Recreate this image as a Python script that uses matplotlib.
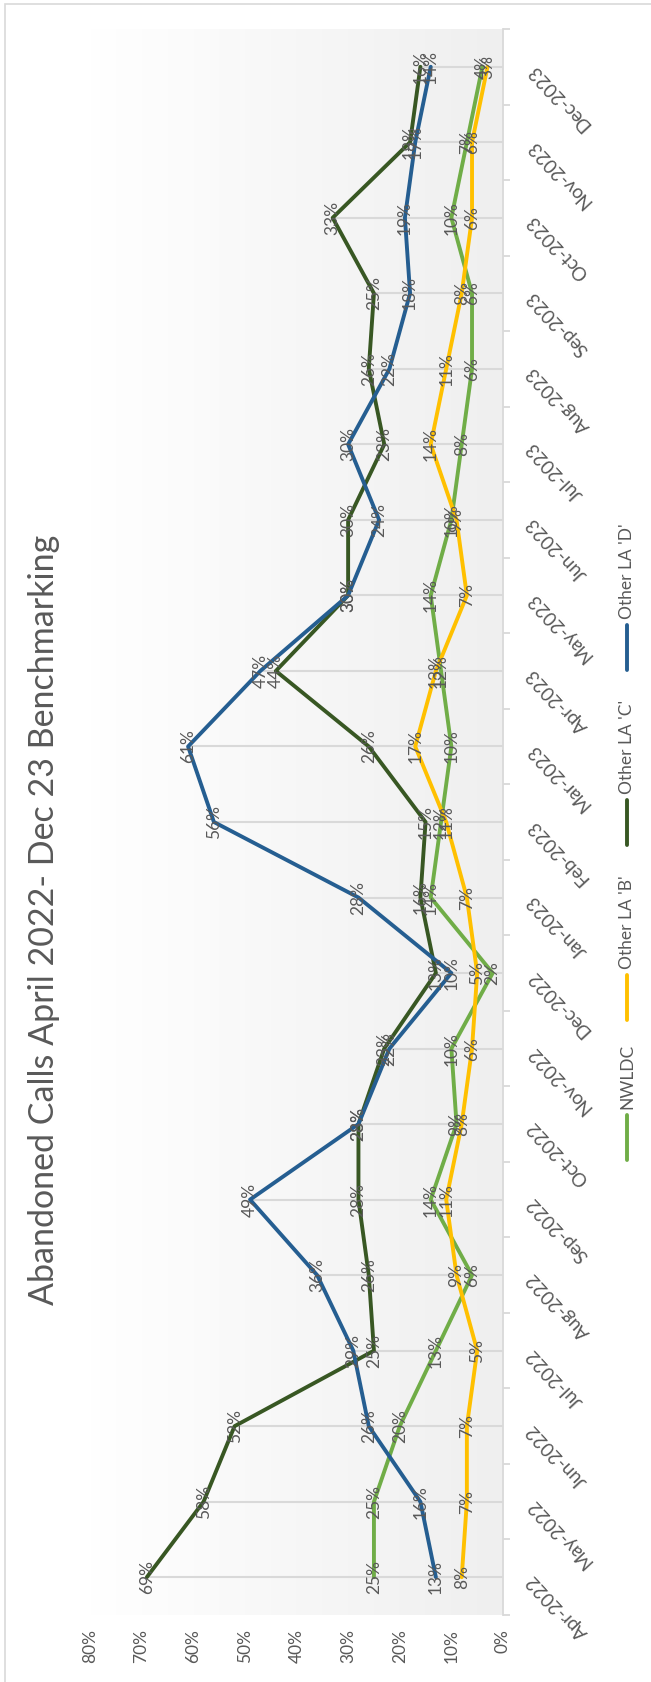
import matplotlib
matplotlib.use("Agg")
import matplotlib.pyplot as plt
import matplotlib.patches as patches
from matplotlib.colors import LinearSegmentedColormap
from matplotlib.lines import Line2D
import numpy as np

plt.rcParams["font.family"] = ["Lato", "DejaVu Sans"]

title = "Abandoned Calls April 2022- Dec 23 Benchmarking"
months = [
    "Apr-2022", "May-2022", "Jun-2022", "Jul-2022", "Aug-2022", "Sep-2022",
    "Oct-2022", "Nov-2022", "Dec-2022", "Jan-2023", "Feb-2023", "Mar-2023",
    "Apr-2023", "May-2023", "Jun-2023", "Jul-2023", "Aug-2023", "Sep-2023",
    "Oct-2023", "Nov-2023", "Dec-2023",
]
series_names = ["NWLDC", "Other LA 'B'", "Other LA 'C'", "Other LA 'D'"]
nwldc = [25, 25, 20, 13, 6, 14, 9, 10, 2, 14, 12, 10, 12, 14, 10, 8, 6, 6, 10, 7, 4]
la_b = [8, 7, 7, 5, 9, 11, 8, 6, 5, 7, 11, 17, 13, 7, 9, 14, 11, 8, 6, 6, 3]
la_c = [69, 58, 52, 25, 26, 28, 28, 23, 13, 16, 15, 26, 44, 30, 30, 23, 26, 25, 33, 18, 16]
la_d = [13, 16, 26, 29, 36, 49, 28, 22, 10, 28, 56, 61, 47, 30, 24, 30, 22, 18, 19, 17, 14]
value_ticks = [0, 10, 20, 30, 40, 50, 60, 70, 80]

colors = ["#70AD47", "#FFC000", "#385723", "#255E91"]
grey = "#595959"
W, H = 651, 1682

fig = plt.figure(figsize=(W / 100, H / 100), dpi=100)
# chart is drawn turned on its side: values run right-to-left, months bottom-to-top
ax = fig.add_axes([90 / W, 1 - 1615 / H, (503 - 90) / W, (1615 - 29) / H])

bg = LinearSegmentedColormap.from_list("bg", ["#ffffff", "#efefef"])
ax.imshow(np.linspace(0, 1, 256)[None, :], extent=[80, 0, -0.5, 20.5],
          aspect="auto", cmap=bg, zorder=0)

y = np.arange(len(months))
all_series = [nwldc, la_b, la_c, la_d]
top = np.max(np.array(all_series), axis=0)
ax.hlines(y, 0, top, colors="#d9d9d9", lw=1.5, zorder=1)

for i, (vals, c) in enumerate(zip(all_series, colors)):
    ax.plot(vals, y, color=c, lw=2.8, zorder=2 + i,
            solid_joinstyle="round", solid_capstyle="round")
for vals in all_series:
    for v, yy in zip(vals, y):
        ax.text(v, yy, f"{v}%", rotation=90, ha="center", va="center",
                color=grey, fontsize=12.5, zorder=10)

ax.set_xlim(80, 0)
ax.set_ylim(-0.5, 20.5)
for s in ["left", "top", "bottom"]:
    ax.spines[s].set_visible(False)
ax.spines["right"].set_color("#d9d9d9")
ax.spines["right"].set_linewidth(1.3)

ax.set_xticks(value_ticks, [f"{v}%" for v in value_ticks])
ax.tick_params(axis="x", length=0, pad=10, labelrotation=90,
               labelsize=12.5, labelcolor=grey)
ax.yaxis.tick_right()
ax.set_yticks(np.arange(-0.5, 21, 1), [""] * 22)
ax.tick_params(axis="y", direction="out", length=5, width=1.3, color="#d9d9d9")

for m, yy in zip(months, y):
    ax.text(1 + 27 / 413, yy, m, transform=ax.get_yaxis_transform(),
            rotation=133, rotation_mode="anchor", ha="right", va="center",
            color=grey, fontsize=13.5)

fig.text(44 / W, 1 - 920 / H, title, rotation=90, ha="center", va="center",
         fontsize=24.5, color=grey)

# legend, stacked bottom-to-top on the right
leg_x = 627 / W
leg_bottoms = [1160, 1020, 845, 670]
for name, c, yb in zip(series_names, colors, leg_bottoms):
    fig.add_artist(Line2D([leg_x, leg_x], [1 - yb / H, 1 - (yb - 45) / H],
                          color=c, lw=2.8, solid_capstyle="round",
                          transform=fig.transFigure))
    fig.text(leg_x, 1 - (yb - 51) / H, name, rotation=90, ha="center",
             va="bottom", fontsize=12.5, color=grey)

fig.add_artist(patches.Rectangle((5 / W, -0.01), 1.0, 1.01 - 4 / H, fill=False,
                                 ec="#d9d9d9", lw=1.2, transform=fig.transFigure))

fig.savefig("out.png", dpi=100, facecolor="white")
